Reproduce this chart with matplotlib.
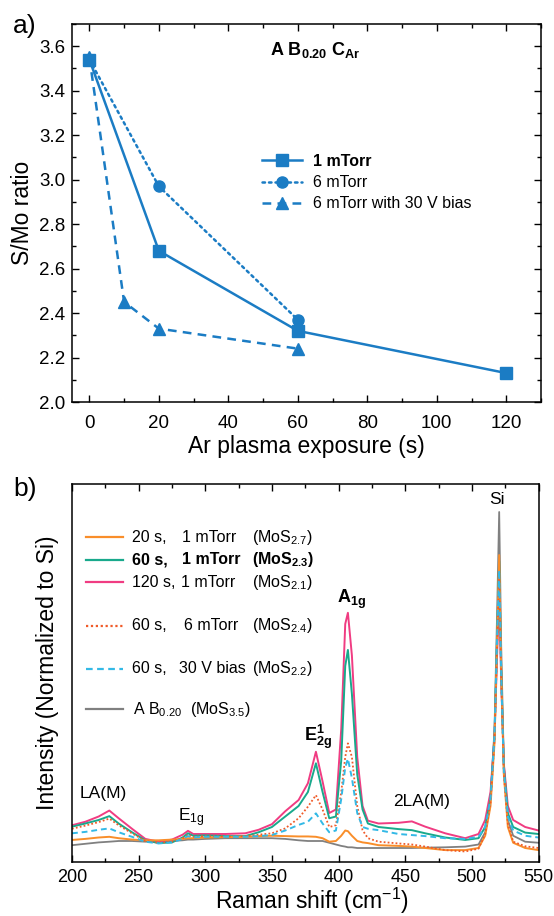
import matplotlib.pyplot as plt
from matplotlib.ticker import MultipleLocator

plt.rcParams['font.family'] = ['Liberation Sans', 'DejaVu Sans']
plt.rcParams['mathtext.fontset'] = 'custom'
plt.rcParams['mathtext.rm'] = 'Liberation Sans'
plt.rcParams['mathtext.it'] = 'Liberation Sans:italic'
plt.rcParams['mathtext.bf'] = 'Liberation Sans:bold'

# ---- panel a: S/Mo ratio vs. Ar plasma exposure time ----
t_1mtorr = [0, 20, 60, 120]
ratio_1mtorr = [3.54, 2.68, 2.32, 2.13]
t_6mtorr = [0, 20, 60]
ratio_6mtorr = [3.54, 2.97, 2.37]
t_bias = [0, 10, 20, 60]
ratio_bias = [3.55, 2.45, 2.33, 2.24]

# ---- panel b: Raman spectra, normalized to the Si line ----
shift = [200, 210, 220, 228, 235, 245, 255, 265, 275, 283, 287, 291, 300, 315,
         330, 340, 350, 360, 370, 377, 383, 388, 393, 398, 402, 405, 407, 410,
         414, 418, 422, 430, 445, 455, 465, 480, 495, 505, 510, 514, 517, 519,
         520.5, 522, 524, 527, 531, 540, 550]
spec_ab020 = [.048, .052, .056, .058, .060, .060, .058, .058, .060, .062, .064, .064, .066, .068,
              .068, .068, .068, .066, .062, .060, .060, .060, .055, .050, .046, .044, .042, .042,
              .040, .040, .040, .040, .040, .040, .041, .042, .044, .050, .085, .18, .38, .72,
              1.0, .62, .28, .12, .075, .058, .055]
spec_20s = [.063, .066, .070, .072, .068, .064, .062, .062, .064, .066, .068, .068, .070, .071,
            .072, .074, .075, .074, .073, .073, .072, .068, .058, .060, .075, .090, .088, .075,
            .060, .056, .054, .048, .046, .044, .040, .034, .034, .040, .075, .16, .34, .64,
            .877, .55, .25, .10, .055, .040, .034]
spec_60s = [.101, .110, .120, .131, .110, .085, .062, .054, .056, .070, .082, .075, .076, .074,
            .074, .085, .100, .130, .160, .200, .282, .200, .125, .130, .290, .560, .606, .480,
            .250, .150, .110, .100, .094, .091, .082, .070, .063, .068, .10, .18, .36, .66,
            .86, .55, .27, .14, .10, .084, .080]
spec_120s = [.105, .115, .130, .147, .125, .095, .066, .058, .064, .078, .089, .080, .080, .080,
             .082, .092, .108, .145, .177, .225, .315, .230, .140, .150, .380, .680, .712, .590,
             .300, .160, .118, .110, .112, .116, .101, .082, .068, .080, .12, .20, .36, .60,
             .749, .52, .28, .16, .12, .100, .090]
spec_6mtorr = [.095, .104, .114, .124, .105, .082, .060, .055, .058, .068, .078, .072, .074, .073,
               .074, .078, .082, .096, .125, .158, .191, .150, .100, .105, .200, .300, .339, .300,
               .160, .091, .068, .058, .053, .050, .044, .034, .030, .038, .08, .17, .35, .62,
               .82, .53, .25, .11, .058, .045, .040]
spec_bias = [.082, .086, .092, .096, .085, .072, .058, .053, .056, .066, .074, .070, .072, .072,
             .072, .074, .077, .090, .106, .115, .139, .110, .085, .090, .180, .270, .295, .240,
             .140, .100, .095, .091, .080, .077, .074, .068, .066, .072, .10, .18, .36, .65,
             .834, .54, .26, .13, .09, .075, .070]

blue = '#1b7cc4'

fig = plt.figure(figsize=(5.54, 9.16), dpi=100)
ax1 = fig.add_axes([72 / 554, 1 - 402 / 916, 469 / 554, 378 / 916])
ax2 = fig.add_axes([72 / 554, 1 - 862 / 916, 466.5 / 554, 378 / 916])

for ax in (ax1, ax2):
    for sp in ax.spines.values():
        sp.set_linewidth(1.1)
    ax.tick_params(which='both', direction='in', top=True, right=True, width=1)
    ax.tick_params(which='major', length=5, labelsize=13.5, pad=6)
    ax.tick_params(which='minor', length=3)

# panel a
ax1.plot(t_1mtorr, ratio_1mtorr, '-', marker='s', color=blue, lw=1.8, ms=8,
         label='1 mTorr')
ax1.plot(t_6mtorr, ratio_6mtorr, marker='o', color=blue, lw=1.8, ms=8,
         linestyle=(0, (1, 1.6)), dash_capstyle='round', label='6 mTorr')
ax1.plot(t_bias, ratio_bias, marker='^', color=blue, lw=1.8, ms=9,
         linestyle=(0, (3.5, 2.5)), label='6 mTorr with 30 V bias')
ax1.set_xlim(-5, 130)
ax1.set_ylim(2.0, 3.7)
ax1.xaxis.set_major_locator(MultipleLocator(20))
ax1.xaxis.set_minor_locator(MultipleLocator(10))
ax1.yaxis.set_major_locator(MultipleLocator(0.2))
ax1.yaxis.set_minor_locator(MultipleLocator(0.1))
ax1.yaxis.set_major_formatter(lambda v, p: f'{v:.1f}')
ax1.tick_params(axis='x', which='major', pad=9)
ax1.tick_params(axis='y', which='major', pad=5)
ax1.set_xlabel('Ar plasma exposure (s)', fontsize=16.5)
ax1.set_ylabel('S/Mo ratio', fontsize=16.5)
ax1.xaxis.set_label_coords(0.5, -0.088)
ax1.yaxis.set_label_coords(-0.08, 0.5)
leg = ax1.legend(loc='upper left', bbox_to_anchor=(0.405, 0.656), frameon=False,
                 fontsize=11.5, handlelength=2.5, handletextpad=0.7,
                 labelspacing=0.38, borderpad=0, borderaxespad=0, numpoints=1)
leg.get_texts()[0].set_fontweight('bold')
ax1.text(65, 3.585, r'$\mathbf{A\ B_{0.20}\ C_{Ar}}$', fontsize=13,
         ha='center', va='center')
fig.text(13 / 554, 1 - 26 / 916, 'a)', fontsize=19, ha='left', va='center')

# panel b
ax2.plot(shift, spec_ab020, color='#808080', lw=1.3)
ax2.plot(shift, spec_120s, color='#f03c82', lw=1.4)
ax2.plot(shift, spec_60s, color='#19a98c', lw=1.4)
ax2.plot(shift, spec_20s, color='#f98e2a', lw=1.4)
ax2.plot(shift, spec_6mtorr, color='#f05a28', lw=1.3, linestyle=(0, (1, 1.2)))
ax2.plot(shift, spec_bias, color='#33b9e6', lw=1.4, linestyle=(0, (3, 2)))
ax2.set_xlim(200, 550)
ax2.set_ylim(0, 1.08)
ax2.xaxis.set_major_locator(MultipleLocator(50))
ax2.xaxis.set_minor_locator(MultipleLocator(25))
ax2.tick_params(axis='y', which='both', left=False, right=False, labelleft=False)
ax2.tick_params(axis='x', which='major', pad=5, labelsize=13)
ax2.set_xlabel('Raman shift (cm$^{-1}$)', fontsize=16.5)
ax2.set_ylabel('Intensity (Normalized to Si)', fontsize=16.5)
ax2.xaxis.set_label_coords(0.515, -0.062)
ax2.yaxis.set_label_coords(-0.028, 0.5)
fig.text(13 / 554, 1 - 489 / 916, 'b)', fontsize=19, ha='left', va='center')

# peak labels
ax2.text(223.7, 0.197, 'LA(M)', fontsize=12.5, ha='center', va='center')
ax2.text(289.6, 0.126, r'E$_\mathrm{1g}$', fontsize=12.5, ha='center', va='center')
ax2.text(384.5, 0.358, r'$\mathbf{E^1_{2g}}$', fontsize=13, ha='center', va='center')
ax2.text(410, 0.75, r'$\mathbf{A_{1g}}$', fontsize=13, ha='center', va='center')
ax2.text(462, 0.173, '2LA(M)', fontsize=12.5, ha='center', va='center')
ax2.text(519, 1.035, 'Si', fontsize=12.5, ha='center', va='center')

# legend of panel b, laid out in columns
entries = [
    ('#f98e2a', '-', '20 s,', '1 mTorr', r'(MoS$_{2.7}$)', 'normal'),
    ('#19a98c', '-', '60 s,', '1 mTorr', r'(MoS$_\mathbf{2.3}$)', 'bold'),
    ('#f03c82', '-', '120 s,', '1 mTorr', r'(MoS$_{2.1}$)', 'normal'),
    ('#f05a28', (0, (1, 1.2)), '60 s,', '6 mTorr', r'(MoS$_{2.4}$)', 'normal'),
    ('#33b9e6', (0, (3, 2)), '60 s,', '30 V bias', r'(MoS$_{2.2}$)', 'normal'),
]
row_y = [0.859, 0.799, 0.740, 0.625, 0.511]
col_b = [0.235, 0.235, 0.233, 0.241, 0.230]
for (c, ls, a, b, m, w), y, xb in zip(entries, row_y, col_b):
    ax2.plot([0.030, 0.109], [y, y], transform=ax2.transAxes, color=c, lw=1.6, ls=ls)
    ax2.text(0.128, y, a, transform=ax2.transAxes, fontsize=11.5, va='center', fontweight=w)
    ax2.text(xb, y, b, transform=ax2.transAxes, fontsize=11.5, va='center', fontweight=w)
    ax2.text(0.386, y, m, transform=ax2.transAxes, fontsize=11.5, va='center', fontweight=w)
ax2.plot([0.030, 0.109], [0.404, 0.404], transform=ax2.transAxes, color='#808080', lw=1.6)
ax2.text(0.131, 0.404, r'A B$_{0.20}$', transform=ax2.transAxes, fontsize=11.5, va='center')
ax2.text(0.254, 0.404, r'(MoS$_{3.5}$)', transform=ax2.transAxes, fontsize=11.5, va='center')

fig.savefig('out.png', dpi=100)
